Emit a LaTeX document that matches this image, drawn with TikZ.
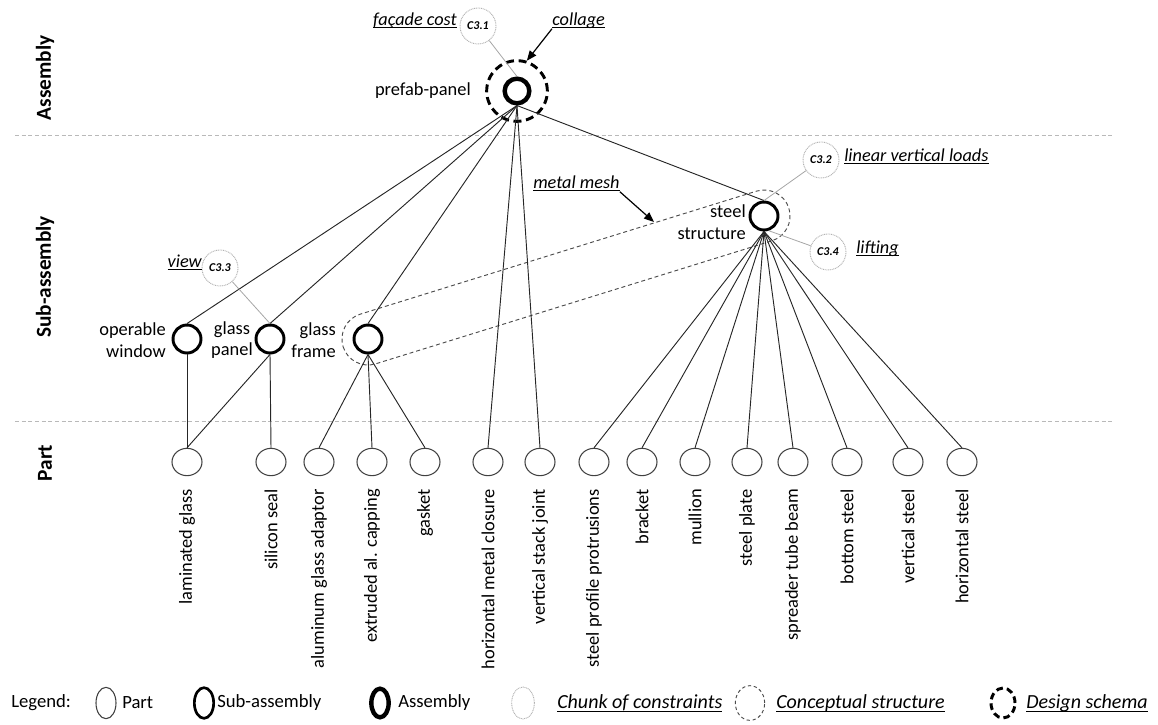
\documentclass[tikz,border=0pt]{standalone}
\usepackage{fontspec}
\setmainfont{Carlito}
\usetikzlibrary{shapes.geometric,arrows.meta}

% underline at a fixed distance below the baseline
\newcommand{\undl}[1]{\setbox0\hbox{#1}\rlap{\rule[-2.6pt]{\wd0}{0.75pt}}\box0}

\tikzset{
  sepline/.style={draw=gray!55, line width=0.6pt, dash pattern=on 3pt off 2pt},
  rowlbl/.style={rotate=90, font=\fontsize{16}{19}\selectfont\bfseries, inner sep=0pt},
  lbl/.style={font=\fontsize{13.8}{16.3}\selectfont, inner sep=0pt},
  ital/.style={font=\fontsize{13.7}{16.3}\selectfont\itshape, inner sep=0pt},
  lglbl/.style={font=\fontsize{14}{16}\selectfont, inner sep=0pt, anchor=west},
  lgital/.style={font=\fontsize{15}{17}\selectfont\itshape, inner sep=0pt, anchor=west},
  plbl/.style={lbl, rotate=90, anchor=east},
  part/.style={ellipse, draw=black!75, line width=0.8pt, minimum width=22.5pt, minimum height=20.5pt, inner sep=0pt},
  sub/.style={circle, draw=black, line width=2.2pt, minimum size=21pt, inner sep=0pt},
  asm/.style={circle, draw=black, line width=3.3pt, minimum size=18.5pt, inner sep=0pt},
  schema/.style={circle, draw=black, line width=2.2pt, dash pattern=on 6pt off 3.5pt, minimum size=45.5pt, inner sep=0pt},
  chunk/.style={circle, draw=gray!60, line width=0.7pt, dash pattern=on 0.7pt off 0.6pt, minimum size=27pt, inner sep=0pt, font=\fontsize{9}{10}\selectfont\bfseries\itshape},
  capsule/.style={draw=black!70, line width=0.7pt, dash pattern=on 3pt off 2.2pt},
  edge/.style={draw=black!85, line width=0.7pt},
  cline/.style={draw=gray!70, line width=0.6pt},
  arr/.style={draw=black, line width=0.9pt, -{Triangle[length=7.5pt,width=6pt]}},
  lgpart/.style={ellipse, draw=black!75, line width=0.8pt, minimum width=15pt, minimum height=23.5pt, inner sep=0pt},
  lgsub/.style={ellipse, draw=black, line width=2pt, minimum width=14.5pt, minimum height=23pt, inner sep=0pt},
  lgasm/.style={ellipse, draw=black, line width=3.3pt, minimum width=13pt, minimum height=21.5pt, inner sep=0pt},
  lgchunk/.style={ellipse, draw=gray!60, line width=0.7pt, dash pattern=on 0.7pt off 0.6pt, minimum width=17pt, minimum height=24pt, inner sep=0pt},
  lgconc/.style={ellipse, draw=black!70, line width=0.7pt, dash pattern=on 2.5pt off 2pt, minimum width=22pt, minimum height=26pt, inner sep=0pt},
  lgschema/.style={ellipse, draw=black, line width=2.2pt, dash pattern=on 5pt off 3pt, minimum width=18pt, minimum height=22.5pt, inner sep=0pt}
}

\begin{document}
\begin{tikzpicture}[x=0.75pt, y=-0.75pt]
\path[use as bounding box] (0,0) rectangle (1158,725);

% level separators
\draw[sepline] (15,135) -- (1113,135);
\draw[sepline] (15,421) -- (1113,421);

% level titles
\node[rowlbl] (rA) at (45,78) {Assembly};
\node[rowlbl] (rS) at (45,277) {Sub-assembly};
\node[rowlbl] (rP) at (45,463) {Part};

% assembly
\node[schema] (sch) at (517,91) {};
\node[asm] (pp) at (517,91) {};
\node[lbl, anchor=base east] (ppl) at (471,95) {prefab-panel};

% sub-assemblies
\node[sub] (ow) at (187,339) {};
\node[sub] (gp) at (270,339) {};
\node[sub] (gf) at (368,339) {};
\node[sub] (ss) at (764,216) {};
\node[lbl, align=right, anchor=east] (owl) at (166,340) {operable\\window};
\node[lbl, align=center] (gpl) at (232,340) {glass\\panel};
\node[lbl, align=right, anchor=east] (gfl) at (336,340) {glass\\frame};
\node[lbl, align=right, anchor=east] (ssl) at (746,222) {steel\\structure};

% conceptual structure around glass frame and steel structure
\begin{scope}[shift={(566,277.5)}, rotate=17.25]
  \draw[capsule, rounded corners=19.5pt] (-233.4,-26) rectangle (233.4,26);
\end{scope}

% parts
\foreach \n/\x/\t in {p1/187/laminated glass, p2/271/silicon seal,
    p3/319/aluminum glass adaptor, p4/372/extruded al. capping, p5/425/gasket,
    p6/488/horizontal metal closure, p7/540/vertical stack joint,
    p8/594/steel profile protrusions, p9/642/bracket, p10/695/mullion,
    p11/747/steel plate, p12/793/spreader tube beam, p13/847/bottom steel,
    p14/908/vertical steel, p15/962/horizontal steel}{
  \node[part] (\n) at (\x,462) {};
  \node[plbl] (\n-l) at (\x,489) {\t};
}

% hierarchy links
\foreach \c in {ow,gp,gf,p6,p7,ss} \draw[edge] (pp.south) -- (\c.north);
\draw[edge] (ow.south) -- (p1.north);
\draw[edge] (gp.south) -- (p1.north);
\draw[edge] (gp.south) -- (p2.north);
\foreach \p in {p3,p4,p5} \draw[edge] (gf.south) -- (\p.north);
\foreach \p in {p8,p9,p10,p11,p12,p13,p14,p15} \draw[edge] (ss.south) -- (\p.north);

% chunks of constraints
\node[chunk] (c31) at (478,26) {C3.1};
\node[chunk] (c32) at (821,160) {C3.2};
\node[chunk] (c33) at (220,268) {C3.3};
\node[chunk] (c34) at (828,252) {C3.4};
\draw[cline] (c31) -- (pp.north);
\draw[cline] (c32) -- (ss.north);
\draw[cline] (c33) -- (gp.north);
\draw[cline] (ss.-72) -- (c34);

% constraint and structure names
\node[ital, anchor=base east] (fc) at (457,25) {\undl{façade cost}};
\node[ital, anchor=base west] (col) at (552,25) {\undl{collage}};
\node[ital, anchor=base west] (lvl) at (844,161) {\undl{linear vertical loads}};
\node[ital, anchor=base west] (lif) at (856,253) {\undl{lifting}};
\node[ital, anchor=base east] (vw) at (202,267) {\undl{view}};
\node[ital, anchor=base west] (mm) at (533,188) {\undl{metal mesh}};

\coordinate (mmtip) at (654,222);
\draw[arr] (col.south west) -- (sch.72);
\draw[arr] (mm.south east) -- (mmtip);

% legend
\node[lglbl] (lg) at (11,703) {Legend:};
\node[lgpart] (lg1) at (106,703) {};
\node[lglbl] (lg1t) at (122,703) {Part};
\node[lgsub] (lg2) at (204,703) {};
\node[lglbl] (lg2t) at (217,703) {Sub-assembly};
\node[lgasm] (lg3) at (380,703) {};
\node[lglbl] (lg3t) at (398,703) {Assembly};
\node[lgchunk] (lg4) at (523,703) {};
\node[lgital] (lg4t) at (557,703) {\undl{Chunk of constraints}};
\node[lgconc] (lg5) at (750,703) {};
\node[lgital] (lg5t) at (776,703) {\undl{Conceptual structure}};
\node[lgschema] (lg6) at (1003,703) {};
\node[lgital] (lg6t) at (1026,703) {\undl{Design schema}};
\end{tikzpicture}
\end{document}
